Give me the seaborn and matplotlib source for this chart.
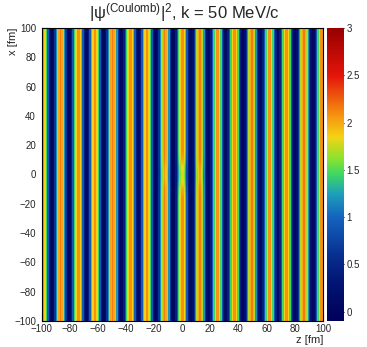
import numpy as np
import pandas as pd
import matplotlib
matplotlib.use("Agg")
import matplotlib.pyplot as plt
import seaborn as sns
from matplotlib.colors import LinearSegmentedColormap

# --- data ---------------------------------------------------------------
# centres of the bright interference stripes along z [fm]
stripe_z = [-99.0, -86.5, -74.0, -62.0, -49.5, -37.0, -25.0, -12.5, 0.0,
            12.5, 25.0, 37.0, 49.5, 62.0, 74.0, 86.5, 99.0]
# peak value of each stripe far from the origin
stripe_peak = [2.15, 2.15, 2.15, 2.15, 2.15, 2.15, 2.15, 2.15, 2.15,
               2.15, 2.15, 2.15, 2.15, 2.15, 2.15, 2.15, 2.15]
# cross-section of one stripe: |psi|^2 against distance from its centre [fm]
cross_offset = [0.0, 1.0, 2.0, 3.0, 4.0, 5.0, 6.2]
cross_value = [2.15, 2.0, 1.7, 1.2, 0.65, 0.2, 0.0]
# Coulomb suppression near the origin: scale of the central stripes vs |x|
core_x = [0.0, 3.0, 6.0, 10.0, 16.0]
core_scale_mid = [0.86, 0.87, 0.9, 0.96, 1.0]
core_scale_side = [0.95, 0.95, 0.97, 0.99, 1.0]

z_ticks = [-100, -80, -60, -40, -20, 0, 20, 40, 60, 80, 100]
x_ticks = [-100, -80, -60, -40, -20, 0, 20, 40, 60, 80, 100]
cbar_ticks = [0, 0.5, 1, 1.5, 2, 2.5, 3]

# palette: value on the colour scale -> RGB
pal_value = [-0.1, 0.3, 0.6, 1.0, 1.25, 1.45, 1.62, 1.85, 2.1, 2.5, 3.0]
pal_rgb = [(0, 0, 88), (2, 20, 115), (8, 48, 145), (20, 100, 190),
           (30, 160, 185), (60, 215, 100), (140, 226, 45), (245, 210, 20),
           (245, 140, 15), (228, 20, 10), (150, 0, 0)]

# --- histogram ----------------------------------------------------------
nz, nx = 200, 200
z_lo, z_hi, x_lo, x_hi = -100.0, 100.0, -100.0, 100.0
vmin, vmax = pal_value[0], pal_value[-1]
zc = np.linspace(z_lo, z_hi, nz, endpoint=False) + (z_hi - z_lo) / nz / 2
xc = (np.linspace(x_lo, x_hi, nx, endpoint=False) + (x_hi - x_lo) / nx / 2)[::-1]

sz = np.asarray(stripe_z)
nearest = np.abs(zc[:, None] - sz[None, :]).argmin(axis=1)
dist = np.abs(zc - sz[nearest])
base = np.interp(dist, cross_offset, cross_value) / cross_value[0]

grid = np.empty((nx, nz))
mid = len(stripe_z) // 2
for i, xv in enumerate(xc):
    scale = np.array(stripe_peak, dtype=float)
    scale[mid] *= np.interp(abs(xv), core_x, core_scale_mid)
    scale[mid - 1] *= np.interp(abs(xv), core_x, core_scale_side)
    scale[mid + 1] *= np.interp(abs(xv), core_x, core_scale_side)
    grid[i] = base * scale[nearest]

df = pd.DataFrame(grid, index=np.round(xc, 2), columns=np.round(zc, 2))

rainbow = LinearSegmentedColormap.from_list(
    "rainbow_root",
    [((v - vmin) / (vmax - vmin), tuple(c / 255 for c in rgb))
     for v, rgb in zip(pal_value, pal_rgb)], N=512)

# --- figure -------------------------------------------------------------
sns.set_style("white")
plt.rcParams["font.family"] = ["Liberation Sans", "DejaVu Sans"]
plt.rcParams["mathtext.fontset"] = "custom"
plt.rcParams["mathtext.rm"] = "Liberation Sans"
plt.rcParams["mathtext.it"] = "Liberation Sans:italic"
plt.rcParams["mathtext.bf"] = "Liberation Sans:bold"
plt.rcParams["axes.unicode_minus"] = True

W, H = 367, 347
fig = plt.figure(figsize=(W / 100, H / 100), dpi=100)
fig.patch.set_facecolor("white")
ax = fig.add_axes([41.5 / W, 1 - 321 / H, 281.5 / W, 293 / H])
cax = fig.add_axes([327 / W, 1 - 321 / H, 17 / W, 293 / H])

sns.heatmap(df, ax=ax, cmap=rainbow, vmin=vmin, vmax=vmax, cbar_ax=cax,
            xticklabels=False, yticklabels=False, rasterized=True)


def zpos(v):
    return (v - z_lo) / (z_hi - z_lo) * nz


def xpos(v):
    return (x_hi - v) / (x_hi - x_lo) * nx


ax.set_xticks([zpos(v) for v in z_ticks])
ax.set_xticklabels([f"{v}".replace("-", "\u2212") for v in z_ticks])
ax.set_xticks([zpos(v) for v in range(-100, 101, 4)], minor=True)
ax.set_yticks([xpos(v) for v in x_ticks])
ax.set_yticklabels([f"{v}".replace("-", "\u2212") for v in x_ticks])
ax.set_yticks([xpos(v) for v in range(-100, 101, 4)], minor=True)

ax.tick_params(axis="both", which="major", direction="in", length=5.8,
               width=0.8, color="black", labelsize=7, pad=2,
               bottom=True, left=True, top=False, right=False)
ax.tick_params(axis="both", which="minor", direction="in", length=2.9,
               width=0.8, color="black", bottom=True, left=True,
               top=False, right=False)
ax.tick_params(axis="y", which="major", pad=4)
for s in ax.spines.values():
    s.set_visible(True)
    s.set_linewidth(0.8)
    s.set_color("black")

ax.set_xlabel("z [fm]", fontsize=8, loc="right", labelpad=1)
ax.set_ylabel("x [fm]", fontsize=8, loc="top")
ax.yaxis.set_label_coords(-0.083, 1.0)

cax.set_yticks(cbar_ticks)
cax.set_yticklabels(["0", "0.5", "1", "1.5", "2", "2.5", "3"])
cax.tick_params(axis="y", which="major", direction="in", length=4, width=0.8,
                color="black", labelsize=7, pad=2, right=True, left=False)
for s in cax.spines.values():
    s.set_visible(False)

fig.text(184 / W, 1 - 13 / H,
         r"$|\mathrm{ψ}^{(\mathrm{Coulomb})}|^{2}$, k = 50 MeV/c",
         ha="center", va="center", fontsize=12)

fig.savefig("out.png", dpi=100, facecolor="white")
